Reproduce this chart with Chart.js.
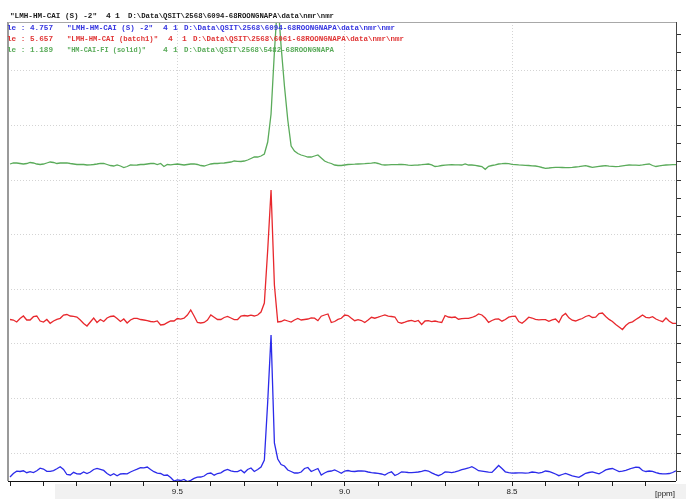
<!DOCTYPE html>
<html><head><meta charset="utf-8">
<script src="https://cdn.jsdelivr.net/npm/chart.js@4/dist/chart.umd.min.js"></script>
<style>html,body{margin:0;padding:0;background:#fff;}canvas{display:block;}</style>
</head><body>
<canvas id="c" width="686" height="499"></canvas>
<script>
// chemical shift axis (ppm)
const ppm = [
10.00,9.99,9.98,9.97,9.96,9.95,9.94,9.93,9.92,9.91,
9.90,9.89,9.88,9.87,9.86,9.85,9.84,9.83,9.82,9.81,
9.80,9.79,9.78,9.77,9.76,9.75,9.74,9.73,9.72,9.71,
9.70,9.69,9.68,9.67,9.66,9.65,9.64,9.63,9.62,9.61,
9.60,9.59,9.58,9.57,9.56,9.55,9.54,9.53,9.52,9.51,
9.50,9.49,9.48,9.47,9.46,9.45,9.44,9.43,9.42,9.41,
9.40,9.39,9.38,9.37,9.36,9.35,9.34,9.33,9.32,9.31,
9.30,9.29,9.28,9.27,9.26,9.25,9.24,9.23,9.22,9.21,
9.20,9.19,9.18,9.17,9.16,9.15,9.14,9.13,9.12,9.11,
9.10,9.09,9.08,9.07,9.06,9.05,9.04,9.03,9.02,9.01,
9.00,8.99,8.98,8.97,8.96,8.95,8.94,8.93,8.92,8.91,
8.90,8.89,8.88,8.87,8.86,8.85,8.84,8.83,8.82,8.81,
8.80,8.79,8.78,8.77,8.76,8.75,8.74,8.73,8.72,8.71,
8.70,8.69,8.68,8.67,8.66,8.65,8.64,8.63,8.62,8.61,
8.60,8.59,8.58,8.57,8.56,8.55,8.54,8.53,8.52,8.51,
8.50,8.49,8.48,8.47,8.46,8.45,8.44,8.43,8.42,8.41,
8.40,8.39,8.38,8.37,8.36,8.35,8.34,8.33,8.32,8.31,
8.30,8.29,8.28,8.27,8.26,8.25,8.24,8.23,8.22,8.21,
8.20,8.19,8.18,8.17,8.16,8.15,8.14,8.13,8.12,8.11,
8.10,8.09,8.08,8.07,8.06,8.05,8.04,8.03,8.02,8.01
];

// intensities (relative to each trace's own baseline)
const blueValues = [
-7,-3.5,-1.2,-1.5,-0.8,-2.7,-1.7,-2.6,-0.7,1.8,
1,-1.3,-1.3,-0.6,1.2,3.3,0.5,-4.5,-5,-2.3,
-3.8,-4,-2,-3.5,-2,0.5,1.6,0.6,-0.4,-3.5,
-5.6,-3.8,-5.8,-4,-3.6,-3.8,-2,-0.5,0.8,2.3,
2.2,3,0.5,-1.7,-3.2,-3.5,-5.3,-5,-7.5,-11,
-9.8,-10.5,-9.5,-11.5,-10.3,-8.4,-7.2,-7,-6,-3.5,
-3,-5.2,-3.5,-2.8,-0.7,0.6,-0.8,-1.7,-1.7,0,
-2.8,0.5,2,-1.5,0.5,3,10,68,135,27,
11,5.5,4,0,-1.5,-3,-3,-2,1.5,2.5,
-1.5,0,1.5,-5,-3,-1.5,-1,0,-1.5,-3.3,
-1,-0.5,-1.3,-1.5,-1,-0.8,-1.2,-2,-2.7,-3,
-3.3,-4,-5,-3,-1.8,-5.5,-4,-1.8,-2.1,-2.5,
-2.7,-2.3,-2,-1.3,-0.3,-1,-2.8,-4.3,-5.7,-4.3,
-2,-2.1,-2.6,-1.8,-0.8,0.3,1.2,2,3.3,1.5,
-0.7,-1.2,-1.7,-2.2,-2.4,1,4.5,1.5,-1.8,-2.7,
-3.2,-3,-2.8,-2.9,-3.2,-2.9,-2,-2.3,-3.1,-2.3,
-1,-1.5,-2.6,-4,-5.7,-4.5,-3.5,-4.6,-5.9,-6.6,
-7.3,-5.4,-3.3,-2.5,-1.8,-2.8,-3.9,-2,0.1,1,
1.5,0,-1.6,-1.1,-0.3,0.8,2,2.8,2.5,-0.5,
-1.5,-1,-1.3,-2.7,-3.5,-3.8,-3.9,-3.5,-2.5,-0.7
];

const redValues = [
0.5,0,-2,1.5,4,0,0,3.3,4,-1,
-2,0.5,-3.3,-1,0.7,1.7,5,5.5,4,3.6,
3,0,-3.5,-6,-2,2,-2.5,0.5,-1.5,2,
3.5,4,1.5,-1.5,1,-3,0,1.7,1.7,0.5,
0,-0.6,-1.5,-1.8,-0.9,-5,-4.5,-2.7,-1,-1,
1.5,0.8,1.8,5,10,4,-2.5,-3,-2.5,0,
5,2.7,0.5,0.5,2.5,3.5,2,0.3,0.5,4,
4.5,4,4.8,4,5,8,17,70,130,35,
-2,-1.5,0,-1,-2,0,1.5,0,0.5,1,
2.2,1.8,-0.7,3.8,5,6,-2.5,-1.5,0.6,1.7,
5,4.5,1.7,-0.7,0.3,-0.5,-2.5,0,2.7,1.8,
2.8,4,5,3.8,3.5,3,-2.3,-3.2,-2.2,-1,
-0.3,-1.5,-0.5,-4.5,-1,-0.7,-1.6,-1,-1.8,-2.5,
4.5,3,2.5,3,0.8,1.3,1.7,1.7,2.5,3.8,
6,5,2,-2.3,-0.5,0.8,1,-1.2,0.5,2.8,
3.6,3.9,-1.5,-3.3,-0.5,2.8,2,0.6,0.1,0.4,
0.3,-1.3,0.2,1,-2.5,4,6.5,2.2,-0.2,-1,
0.4,1.5,3.5,4.5,2.5,2.8,6.5,7,3.5,0.6,
-1.5,-4.5,-7,-9.5,-5.5,-2.8,-1.8,0.5,2.6,5,
2.7,2.2,3.3,1,-0.5,-1.7,2,-1.2,-3.3,-3.3
];

const greenValues = [
0,1,1,0.5,0,0.5,1.5,1,0,-0.5,
0,1,2,1.5,0.5,1,1,1.2,0.5,0,
-0.5,-0.3,-0.5,-1,-0.8,-0.5,0,0.7,0.5,-0.5,
-1.5,-2,-1,-2,-3.5,-2.5,-1,-1.2,-1,-0.5,
-0.5,0,0.5,0.5,-0.5,0.5,-2.5,-0.5,-0.8,-0.3,
0,-0.5,-1,-0.5,0,0.2,-0.5,-1.5,-2,-1,
0,0.5,0.5,0.8,1,1.5,2,3,2.7,2.5,
3,4,5.5,7,7,8,10,22,50,112,
165,118,78,44,18,13,10.5,9,8,7,
7,8,9,6,3,1.5,0.5,-1,-1.5,-1.5,
-1,-0.5,-0.3,-0.2,0,0.2,0.3,0.6,0.9,1.3,
0.5,-0.6,-1,-0.8,-0.7,-0.6,-0.5,-0.3,-0.7,-1.2,
-1.3,-1.1,-1,-0.7,-0.3,0,-0.8,-2.5,-2.2,-1.5,
-1.2,-0.9,-0.7,-0.8,-0.9,-1,0,-1,-1,-1.4,
-2,-2.6,-5.3,-2.3,-1.5,-0.8,0,0.3,0.7,0.3,
-0.3,-0.6,-0.9,-1.1,-1.3,-1.5,-1.8,-2,-2.6,-3.5,
-4.3,-4,-3.6,-3.3,-3.4,-3.5,-3.6,-3.7,-3.4,-3,
-2.7,-2.2,-1.7,-2.5,-3.3,-2.8,-2.3,-2,-1.7,-2.1,
-2.4,-2.7,-2.3,-1.8,-1.4,-1,-1.1,-1.2,-1.3,-0.9,
-0.4,0,-1.5,-2.5,-1.8,-1.3,-1,-0.8,-0.7,-0.7
];

// vertical stacking offsets of the three traces (intensity units)
const traceOffsets = [11, 161, 317];
const traceColors = ['#2b2bea', '#e8282d', '#5aab5a'];

// x axis ticks
const xTickValues = [10.0,9.9,9.8,9.7,9.6,9.5,9.4,9.3,9.2,9.1,9.0,8.9,8.8,8.7,8.6,8.5,8.4,8.3,8.2,8.1];
const xLabelValues = [9.5, 9.0, 8.5];
const xTickLabels = ['9.5', '9.0', '8.5'];
const xUnitLabel = '[ppm]';

// header / legend text rows: [text, x, max width]
const headerRows = [
  {color:'#1a1a1a', y:16, parts:[['"LMH-HM-CAI (S) -2"',10,87],['4',106,6],['1',115,6],['D:\\Data\\QSIT\\2568\\6094-68ROONGNAPA\\data\\nmr\\nmr',128,206]]},
  {color:'#3535e0', y:28, parts:[['le : 4.757',7,46],['"LMH-HM-CAI (S) -2"',67,86],['4',163,6],['1',173,6],['D:\\Data\\QSIT\\2568\\6094-68ROONGNAPA\\data\\nmr\\nmr',184,211]]},
  {color:'#e03535', y:39, parts:[['le : 5.657',7,46],['"LMH-HM-CAI (batch1)"',67,91],['4',168,6],['1',182,6],['D:\\Data\\QSIT\\2568\\6061-68ROONGNAPA\\data\\nmr\\nmr',193,211]]},
  {color:'#5aab5a', y:50, parts:[['le : 1.189',7,46],['"HM-CAI-FI (solid)"',67,79],['4',163,6],['1',173,6],['D:\\Data\\QSIT\\2568\\5482-68ROONGNAPA',184,150]]}
];

const seriesList = [blueValues, redValues, greenValues];
const datasets = seriesList.map((vals, k) => ({
  label: 'trace' + k,
  data: ppm.map((p, i) => ({x: p, y: vals[i] + traceOffsets[k]})),
  borderColor: traceColors[k],
  borderWidth: 1.3,
  pointRadius: 0,
  tension: 0,
  fill: false
}));

// y axis tick positions (major every 3rd)
const yMajorStep = 54.6;
const yTickValues = [];
for (let v = 28 - yMajorStep / 3; v < 459; v += yMajorStep / 3) yTickValues.push(v);

const isLabelled = v => xLabelValues.some(l => Math.abs(l - v) < 1e-6);

const decor = {
  id: 'decor',
  beforeDraw(chart) {
    const c = chart.ctx;
    c.save();
    c.fillStyle = '#ffffff';
    c.fillRect(0, 0, chart.width, chart.height);
    c.fillStyle = '#f1f1f1';
    c.fillRect(55, 484, chart.width - 55, chart.height - 484);
    c.restore();
  },
  afterDraw(chart) {
    const c = chart.ctx, a = chart.chartArea;
    c.save();
    // frame
    c.strokeStyle = '#9a9a9a'; c.lineWidth = 2;
    c.beginPath(); c.moveTo(a.left, a.bottom); c.lineTo(a.left, a.top); c.stroke();
    c.lineWidth = 1; c.strokeStyle = '#a8a8a8';
    c.beginPath(); c.moveTo(a.left, a.top + 0.5); c.lineTo(a.right, a.top + 0.5); c.stroke();
    c.strokeStyle = '#444';
    c.beginPath(); c.moveTo(a.right + 0.5, a.top); c.lineTo(a.right + 0.5, a.bottom); c.stroke();
    c.strokeStyle = '#111';
    c.beginPath(); c.moveTo(a.left, a.bottom + 0.5); c.lineTo(a.right, a.bottom + 0.5); c.stroke();
    // header text
    c.font = 'bold 8px "Liberation Mono", monospace';
    c.textBaseline = 'middle';
    headerRows.forEach(r => {
      c.fillStyle = r.color;
      r.parts.forEach(p => c.fillText(p[0], p[1], r.y, p[2]));
    });
    // unit label
    c.font = '8px "Liberation Sans", Arial, sans-serif';
    c.fillStyle = '#222';
    c.fillText(xUnitLabel, 655, 494);
    c.restore();
  }
};

new Chart(document.getElementById('c'), {
  type: 'line',
  data: {datasets},
  options: {
    responsive: false,
    animation: false,
    devicePixelRatio: 1,
    layout: {padding: {left: 8, top: 22, right: 0, bottom: 0}},
    plugins: {legend: {display: false}, tooltip: {enabled: false}},
    scales: {
      x: {
        type: 'linear',
        reverse: true,
        min: 8.01,
        max: 10.006,
        afterBuildTicks: s => { s.ticks = xTickValues.map(v => ({value: v})); },
        afterFit: s => { s.height = 18; },
        ticks: {
          autoSkip: false, maxRotation: 0, padding: 1,
          color: '#222',
          font: {family: '"Liberation Sans", Arial, sans-serif', size: 8},
          callback: v => { const k = xLabelValues.findIndex(l => Math.abs(l - v) < 1e-6); return k >= 0 ? xTickLabels[k] : ''; }
        },
        grid: {
          color: ctx => (ctx.tick && isLabelled(ctx.tick.value)) ? '#d4d4d4' : 'rgba(0,0,0,0)',
          lineWidth: 1,
          tickColor: '#222',
          tickLength: 5,
          tickBorderDash: []
        },
        border: {display: false, dash: [1, 2]}
      },
      y: {
        type: 'linear',
        position: 'right',
        min: 0,
        max: 459,
        afterBuildTicks: s => { s.ticks = yTickValues.map(v => ({value: v})); },
        afterFit: s => { s.width = 10; },
        ticks: {display: false},
        grid: {
          color: ctx => (ctx.index % 3 === 1) ? '#d4d4d4' : 'rgba(0,0,0,0)',
          lineWidth: 1,
          tickColor: '#333',
          tickLength: 5,
          tickBorderDash: []
        },
        border: {display: false, dash: [1, 2]}
      }
    }
  },
  plugins: [decor]
});
</script>
</body></html>
